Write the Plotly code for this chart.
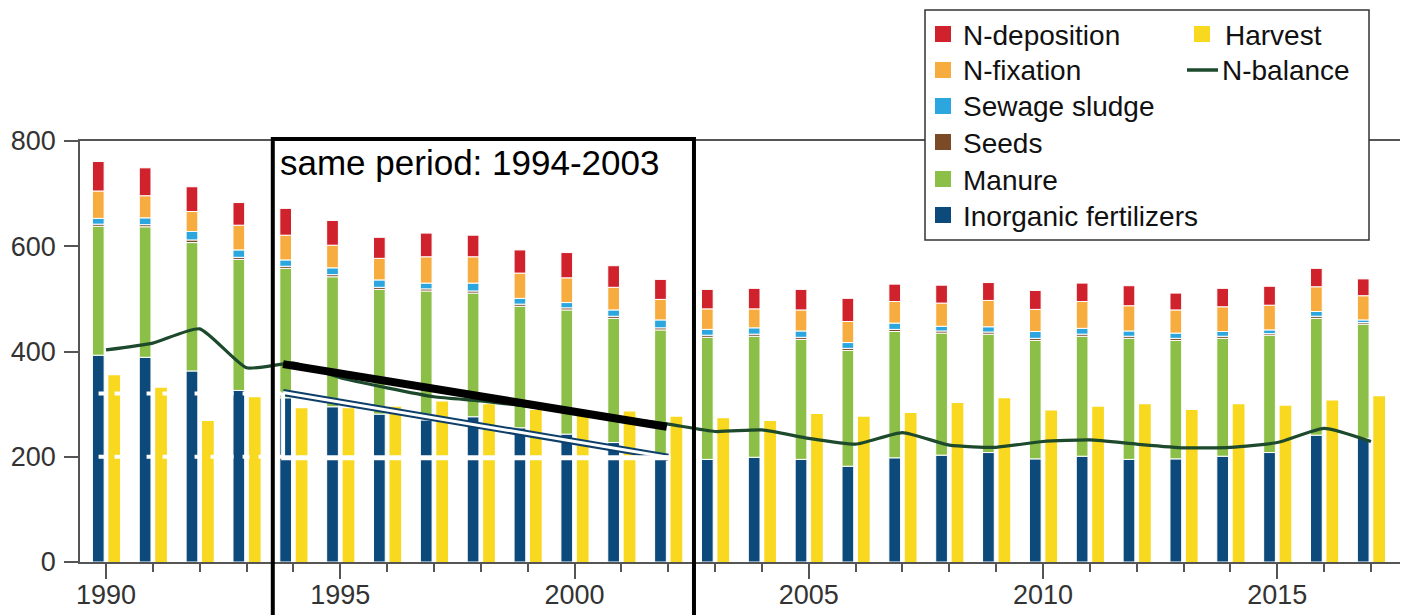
import numpy as np
import plotly.graph_objects as go

years = list(range(1990, 2018))
inorganic = [393, 389, 363, 326, 312, 295, 281, 270, 276, 255, 243, 227, 198, 195,
             199, 195, 182, 198, 203, 208, 196, 201, 195, 196, 201, 208, 241, 235]
manure = [245, 248, 244, 249, 246, 247, 237, 245, 235, 231, 236, 236, 243, 232,
          230, 228, 220, 240, 232, 225, 225, 228, 230, 225, 224, 223, 222, 217]
seeds = [4, 4, 5, 4, 4, 4, 4, 4, 4, 4, 4, 4, 4, 4,
         4, 4, 4, 4, 4, 4, 4, 4, 4, 4, 4, 3, 4, 3]
sewage = [11, 13, 16, 14, 12, 13, 14, 11, 15, 11, 10, 12, 15, 11,
          12, 12, 11, 12, 9, 10, 13, 11, 10, 10, 9, 7, 9, 5]
fixation = [52, 42, 38, 47, 47, 43, 41, 50, 50, 48, 47, 43, 39, 39,
            36, 40, 40, 41, 44, 50, 42, 51, 48, 44, 47, 47, 47, 46]
deposition = [56, 53, 47, 43, 51, 47, 40, 45, 41, 44, 48, 41, 38, 37,
              39, 39, 44, 33, 34, 34, 36, 35, 38, 32, 35, 36, 35, 32]
harvest = [355, 331, 268, 313, 292, 292, 295, 305, 300, 289, 280, 286, 276, 273,
           268, 281, 276, 283, 302, 311, 288, 295, 300, 289, 300, 297, 307, 315]
balance = [403, 416, 443, 369, 378, 350, 331, 314, 306, 296, 285, 273, 262, 248,
           251, 235, 224, 246, 222, 218, 229, 232, 224, 217, 218, 227, 254, 229]

y_ticks = [0, 200, 400, 600, 800]
annotation_text = "same period: 1994-2003"
legend_left = ["N-deposition", "N-fixation", "Sewage sludge", "Seeds", "Manure", "Inorganic fertilizers"]
legend_right = ["Harvest", "N-balance"]

FONT = "Liberation Sans, Arial, sans-serif"
colors = {
    "Inorganic fertilizers": "#0d4a7c",
    "Manure": "#8cbf47",
    "Seeds": "#7b4a27",
    "Sewage sludge": "#2ba6de",
    "N-fixation": "#f7ac40",
    "N-deposition": "#d0222d",
    "Harvest": "#f9d820",
    "N-balance": "#1d4a2c",
}
stack = [("Inorganic fertilizers", inorganic), ("Manure", manure), ("Seeds", seeds),
         ("Sewage sludge", sewage), ("N-fixation", fixation), ("N-deposition", deposition)]

# Page geometry (the page body has an 8px margin, so the figure is shifted by 8px)
PAGE_OFF = 8
W, H = 1408 - PAGE_OFF, 615 - PAGE_OFF
PLOT_L, PLOT_R, PLOT_T, PLOT_B = 80, 1400, 141, 562   # plot area in page pixels
ML = PLOT_L - PAGE_OFF
MT = PLOT_T - PAGE_OFF
MR = W - (PLOT_R - PAGE_OFF)
MB = H - (PLOT_B - PAGE_OFF)
PW, PH = PLOT_R - PLOT_L, PLOT_B - PLOT_T


def px(xp):
    return (xp - PLOT_L) / PW


def py(yp):
    return (PLOT_B - yp) / PH


fig = go.Figure()
base = np.zeros(len(years))
for name, vals in stack:
    v = np.array(vals, dtype=float)
    fig.add_trace(go.Bar(
        x=years, y=v, base=base.copy(), offset=-0.29, width=0.25, name=name,
        marker=dict(color=colors[name], line=dict(color="white", width=1)),
        showlegend=False))
    base += v

fig.add_trace(go.Bar(
    x=years, y=harvest, offset=0.05, width=0.25, name="Harvest",
    marker=dict(color=colors["Harvest"], line=dict(width=0)), showlegend=False))

fig.add_trace(go.Scatter(
    x=years, y=balance, mode="lines", name="N-balance", showlegend=False,
    line=dict(color=colors["N-balance"], width=3.2, shape="spline", smoothing=0.5)))

shapes = []
# white dotted guide lines
for yv in (320, 200):
    shapes.append(dict(type="line", xref="x", yref="y", x0=1989.5, x1=1993.78, y0=yv, y1=yv,
                       line=dict(color="white", width=4, dash="7px,9px")))
# triangle
shapes.append(dict(type="line", xref="x", yref="y", x0=1993.78, x1=2002.0, y0=322, y1=199,
                   line=dict(color="#0d3f6a", width=7)))
shapes.append(dict(type="line", xref="x", yref="y", x0=1993.78, x1=2002.0, y0=322, y1=199,
                   line=dict(color="white", width=3)))
shapes.append(dict(type="line", xref="x", yref="y", x0=1993.78, x1=1993.78, y0=322, y1=198,
                   line=dict(color="white", width=4)))
shapes.append(dict(type="line", xref="x", yref="y", x0=1993.74, x1=2002.05, y0=198, y1=198,
                   line=dict(color="white", width=5)))
# thick black trend line
shapes.append(dict(type="line", xref="x", yref="y", x0=1993.78, x1=2001.97, y0=376, y1=257,
                   line=dict(color="black", width=8)))
# black frame for the period
shapes.append(dict(type="rect", xref="x", yref="paper", x0=1993.56, x1=2002.55, y0=-0.3, y1=py(139),
                   line=dict(color="black", width=4), fillcolor="rgba(0,0,0,0)"))
# legend box
shapes.append(dict(type="rect", xref="paper", yref="paper", x0=px(925), x1=px(1369), y0=py(240), y1=py(10),
                   line=dict(color="#333333", width=1.5), fillcolor="white", layer="above"))

annotations = [dict(text=annotation_text, xref="x", yref="paper", x=1993.68, y=py(163),
                    xanchor="left", yanchor="middle", showarrow=False,
                    font=dict(family=FONT, size=35, color="black"))]

# manual legend: left column
row_y = [34, 70, 106, 142, 179, 215]
for name, yc in zip(legend_left, row_y):
    shapes.append(dict(type="rect", xref="paper", yref="paper", x0=px(935), x1=px(951),
                       y0=py(yc + 8), y1=py(yc - 8), line=dict(width=0),
                       fillcolor=colors[name], layer="above"))
    annotations.append(dict(text=name, xref="paper", yref="paper", x=px(961), y=py(yc + 1),
                            xanchor="left", yanchor="middle", showarrow=False,
                            font=dict(family=FONT, size=28, color="#111111")))
# right column
shapes.append(dict(type="rect", xref="paper", yref="paper", x0=px(1194), x1=px(1210),
                   y0=py(row_y[0] + 8), y1=py(row_y[0] - 8), line=dict(width=0),
                   fillcolor=colors["Harvest"], layer="above"))
shapes.append(dict(type="line", xref="paper", yref="paper", x0=px(1187), x1=px(1218),
                   y0=py(row_y[1]), y1=py(row_y[1]), line=dict(color=colors["N-balance"], width=3.5),
                   layer="above"))
annotations.append(dict(text=legend_right[0], xref="paper", yref="paper", x=px(1223), y=py(row_y[0] + 1),
                        xanchor="left", yanchor="middle", showarrow=False,
                        font=dict(family=FONT, size=28, color="#111111")))
annotations.append(dict(text=legend_right[1], xref="paper", yref="paper", x=px(1220), y=py(row_y[1] + 1),
                        xanchor="left", yanchor="middle", showarrow=False,
                        font=dict(family=FONT, size=28, color="#111111")))

fig.update_layout(
    width=W, height=H,
    margin=dict(l=ML, r=MR, t=MT, b=MB, pad=0, autoexpand=False),
    paper_bgcolor="white", plot_bgcolor="white",
    barmode="overlay", showlegend=False,
    font=dict(family=FONT, color="#333333"),
    shapes=shapes,
    annotations=annotations,
    xaxis=dict(range=[1989.445, 2017.62], tickmode="linear", tick0=1990, dtick=5,
               ticks="outside", ticklen=15, tickwidth=1.5, tickcolor="#555555",
               minor=dict(tick0=1990, dtick=1, ticks="outside", ticklen=8, tickwidth=1.5, tickcolor="#555555"),
               showline=True, linecolor="#555555", linewidth=1.5, mirror=True,
               showgrid=False, zeroline=False, automargin=False, ticklabelstandoff=-7,
               tickfont=dict(family=FONT, size=27, color="#333333")),
    yaxis=dict(range=[0, 800], tickvals=y_ticks, ticks="outside", ticklen=14, tickwidth=1.5,
               tickcolor="#555555", showline=True, linecolor="#555555", linewidth=1.5, mirror=True,
               showgrid=False, zeroline=False, automargin=False, ticklabelstandoff=3,
               tickfont=dict(family=FONT, size=27, color="#333333")),
)

fig.write_html("out.html")
